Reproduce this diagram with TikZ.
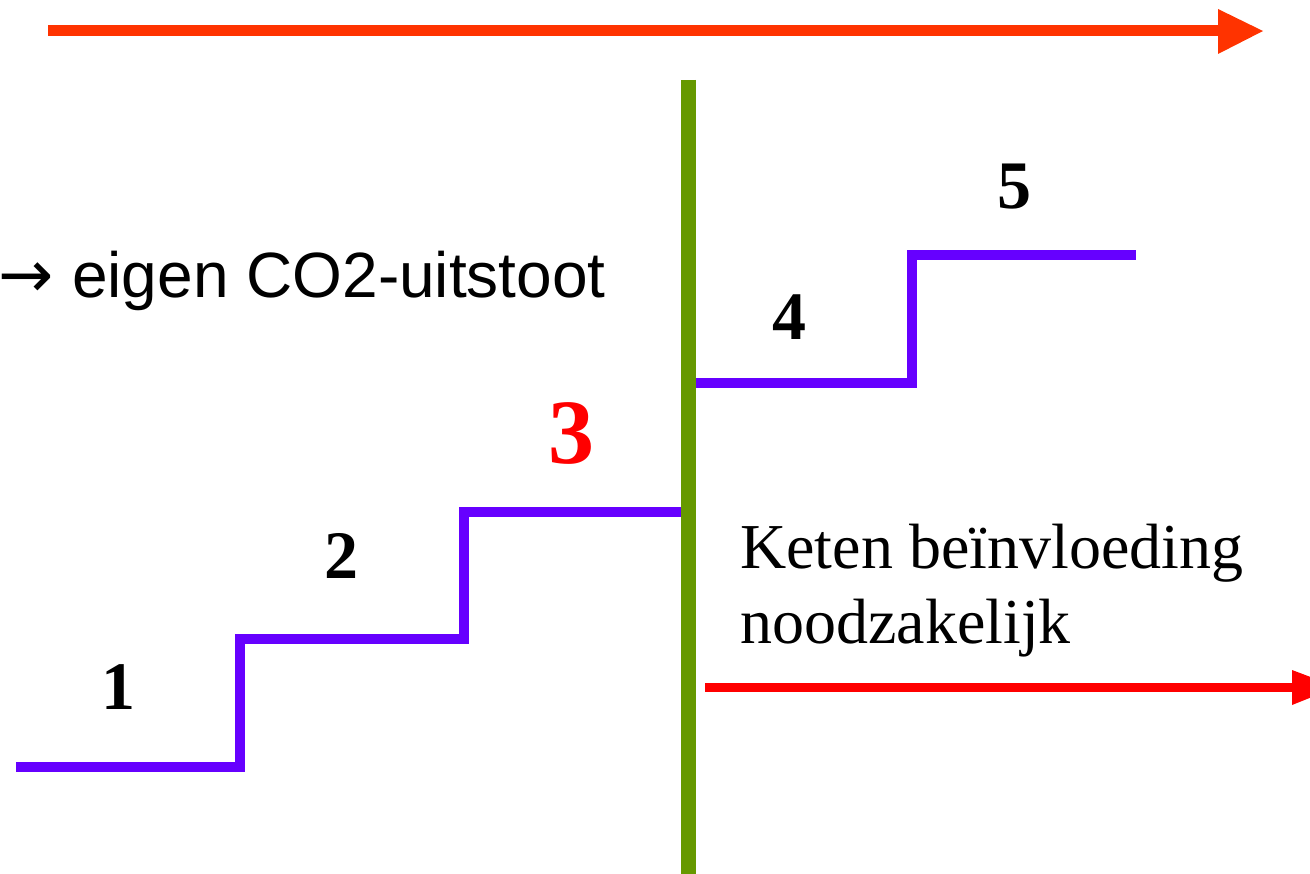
\documentclass[tikz,border=0pt]{standalone}
\usepackage{fontspec}
\setmainfont{Liberation Serif}
\newfontfamily\arialfont{Liberation Sans}
\newfontfamily\symfont{DejaVu Sans}
\definecolor{toparrow}{HTML}{FF3300}
\definecolor{botarrow}{HTML}{FF0000}
\definecolor{stair}{HTML}{6600FF}
\definecolor{divider}{HTML}{669900}
\tikzset{
  stairline/.style={draw=stair, line width=10pt},
  steplabel/.style={font=\fontsize{68}{70}\selectfont\bfseries, text=black, inner sep=0pt},
}
\begin{document}
\begin{tikzpicture}[x=1pt,y=-1pt]
\useasboundingbox (0,0) rectangle (1310,874);
\clip (0,0) rectangle (1310,874);
% top arrow
\coordinate (ta0) at (48,31);
\coordinate (ta1) at (1220,31);
\draw[toparrow, line width=11pt] (ta0) -- (ta1);
\fill[toparrow] (1218,9) -- (1263,31) -- (1218,54) -- cycle;
% divider
\coordinate (g0) at (688,80);
\coordinate (g1) at (688,874);
\draw[divider, line width=15pt] (g0) -- (g1);
% stairs
\draw[stairline] (16,767) -- (240,767);
\draw[stairline] (240,772) -- (240,634);
\draw[stairline] (240,639) -- (464,639);
\draw[stairline] (464,644) -- (464,507);
\draw[stairline] (464,512) -- (681,512);
\draw[stairline] (696,383) -- (912,383);
\draw[stairline] (912,388) -- (912,250);
\draw[stairline] (912,255) -- (1136,255);
% labels
\node[steplabel, anchor=base] (n1) at (118,709) {1};
\node[steplabel, anchor=base] (n2) at (341,578) {2};
\node[steplabel, anchor=base, text=red, font=\fontsize{92}{94}\selectfont\bfseries] (n3) at (571,464) {3};
\node[steplabel, anchor=base] (n4) at (789,340) {4};
\node[steplabel, anchor=base] (n5) at (1014,209) {5};
\node[anchor=base east, inner sep=0pt, font=\arialfont\fontsize{64}{70}\selectfont] (eigen) at (606,298) {{\symfont\fontsize{66}{66}\selectfont →}\hspace{18pt}eigen CO2-uitstoot};
\node[anchor=base west, inner sep=0pt, font=\fontsize{64}{75}\selectfont, align=left] (keten) at (740,643) {Keten beïnvloeding\\noodzakelijk};
% bottom arrow
\draw[botarrow, line width=9pt] (705,687) -- (1294,687);
\fill[botarrow] (1292,670) -- (1337,687) -- (1292,705) -- cycle;
\end{tikzpicture}
\end{document}
